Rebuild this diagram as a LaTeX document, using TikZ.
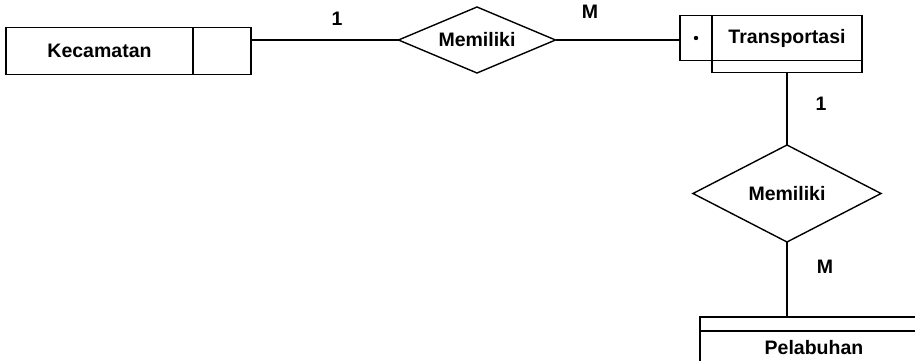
\documentclass[tikz,border=0pt]{standalone}
\usepackage{fontspec}
\setmainfont{Liberation Sans}
\usepackage{tikz}
\usetikzlibrary{positioning,shapes.geometric}
\tikzset{
  entity/.style={draw,line width=1.4pt,inner sep=0pt,outer sep=0pt,minimum height=47pt,font=\fontsize{19.5}{21}\selectfont\bfseries},
  keybox/.style={entity,minimum width=#1},
  strip/.style={draw,line width=1.4pt,inner sep=0pt,outer sep=0pt,minimum width=#1},
  rel/.style={draw,diamond,line width=1.4pt,inner sep=0pt,outer sep=0pt,aspect=2.4,font=\fontsize{19.5}{21}\selectfont\bfseries},
  card/.style={font=\fontsize{19.5}{21}\selectfont\bfseries,inner sep=0pt},
  link/.style={line width=1.3pt},
}

\begin{document}
\begin{tikzpicture}[x=1pt,y=-1pt,node distance=0pt]
  \useasboundingbox (0,0) rectangle (915,361);
  % Kecamatan with its empty key column
  \node[keybox=187pt] (kec) at (99.5,51) {Kecamatan};
  \node[keybox=58pt,right=of kec] (kecx) {};
  % first relationship
  \node[rel,minimum width=157pt,minimum height=66pt] (rel1) at (477,40) {Memiliki};
  % Transportasi, weak entity with the dot column
  \node[keybox=32pt,minimum height=45pt] (tdot) at (696,38) {};
  \fill (tdot.center) circle (2.2pt);
  \node[keybox=150pt,minimum height=45pt,right=of tdot] (trans) {Transportasi};
  \node[strip=150pt,minimum height=12pt,below=of trans] (tstrip) {};
  % second relationship
  \node[rel,minimum width=188pt,minimum height=97pt] (rel2) at (787,193.5) {Memiliki};
  % Pelabuhan
  \node[strip=228pt,minimum height=14pt] (pstrip) at (814,324) {};
  \node[keybox=228pt,minimum height=34pt,below=of pstrip] (pel) {Pelabuhan};

  \draw[link] (rel1.west) -- (rel1.west -| kecx.east);
  \draw[link] (rel1.east) -- (rel1.east -| tdot.west);
  \draw[link] (tstrip.south) -- (rel2.north);
  \draw[link] (rel2.south) -- (rel2.south |- pstrip.north);

  % cardinalities
  \node[card] (c1) at (337,19) {1};
  \node[card] (c2) at (590,12) {M};
  \node[card] (c3) at (821,104) {1};
  \node[card] (c4) at (825,267) {M};
\end{tikzpicture}
\end{document}
